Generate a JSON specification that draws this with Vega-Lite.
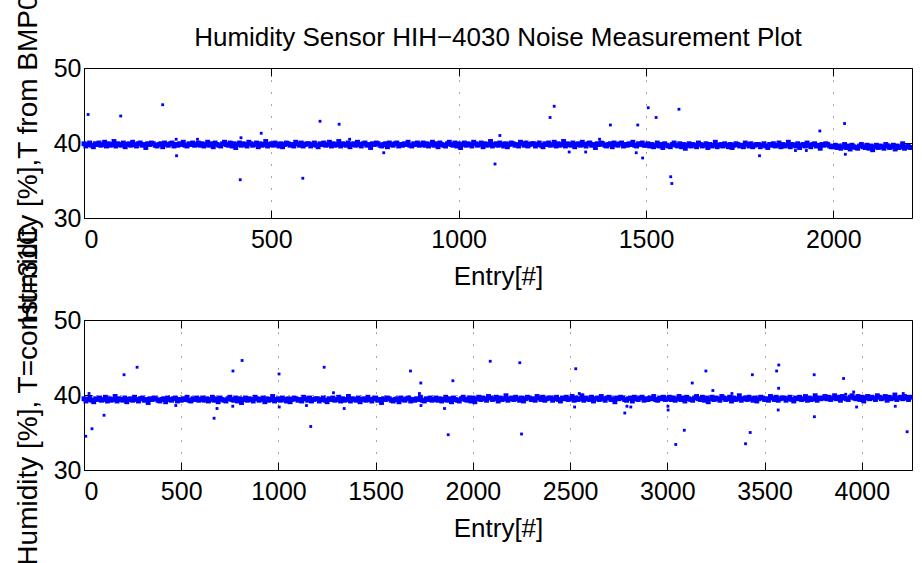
{
"$schema": "https://vega.github.io/schema/vega-lite/v6.json",
"autosize": {"type": "pad"},
"padding": {"left": 13, "top": -38, "right": 0, "bottom": 0},
"background": "white",
"config": {
  "font": "Liberation Sans",
  "view": {"stroke": "black", "strokeWidth": 1},
  "axis": {"labelFont": "Liberation Sans", "titleFont": "Liberation Sans", "labelFontSize": 25, "titleFontSize": 26, "titleFontWeight": "normal", "labelColor": "black", "titleColor": "black", "tickColor": "black", "tickSize": -8, "tickWidth": 1, "domain": false, "labelPadding": 11},
  "axisX": {"labelPadding": 17},
  "title": {"font": "Liberation Sans", "fontSize": 26, "fontWeight": "normal", "color": "black"}
},
"spacing": 102,
"bounds": "flush",
"datasets": {
"a": [
{"e":0,"h":39.9},{"e":5,"h":39.6},{"e":10,"h":39.8},{"e":15,"h":40.0},{"e":20,"h":39.7},{"e":25,"h":39.5},{"e":30,"h":39.9},{"e":35,"h":39.8},{"e":40,"h":40.0},{"e":45,"h":39.7},
{"e":50,"h":39.8},{"e":55,"h":40.1},{"e":60,"h":39.6},{"e":65,"h":39.9},{"e":70,"h":39.7},{"e":75,"h":39.8},{"e":80,"h":40.2},{"e":85,"h":39.6},{"e":90,"h":39.9},{"e":95,"h":39.8},
{"e":100,"h":39.7},{"e":105,"h":40.0},{"e":110,"h":39.5},{"e":115,"h":39.8},{"e":120,"h":39.9},{"e":125,"h":39.7},{"e":130,"h":40.1},{"e":135,"h":39.8},{"e":140,"h":39.6},{"e":145,"h":39.9},
{"e":150,"h":40.0},{"e":155,"h":39.7},{"e":160,"h":39.8},{"e":165,"h":39.4},{"e":170,"h":39.9},{"e":175,"h":39.8},{"e":180,"h":40.0},{"e":185,"h":39.9},{"e":190,"h":39.7},{"e":195,"h":39.6},
{"e":200,"h":39.8},{"e":205,"h":39.9},{"e":210,"h":39.5},{"e":215,"h":40.0},{"e":220,"h":39.8},{"e":225,"h":39.7},{"e":230,"h":39.9},{"e":235,"h":40.0},{"e":240,"h":39.6},{"e":245,"h":39.8},
{"e":250,"h":39.7},{"e":255,"h":39.9},{"e":260,"h":39.8},{"e":265,"h":40.1},{"e":270,"h":39.7},{"e":275,"h":39.6},{"e":280,"h":39.9},{"e":285,"h":39.8},{"e":290,"h":40.0},{"e":295,"h":39.7},
{"e":300,"h":39.8},{"e":305,"h":40.0},{"e":310,"h":39.7},{"e":315,"h":39.9},{"e":320,"h":39.6},{"e":325,"h":39.8},{"e":330,"h":40.1},{"e":335,"h":39.7},{"e":340,"h":39.9},{"e":345,"h":39.5},
{"e":350,"h":40.0},{"e":355,"h":39.8},{"e":360,"h":39.7},{"e":365,"h":39.6},{"e":370,"h":39.9},{"e":375,"h":40.1},{"e":380,"h":39.8},{"e":385,"h":39.7},{"e":390,"h":40.0},{"e":395,"h":39.6},
{"e":400,"h":39.9},{"e":405,"h":39.4},{"e":410,"h":39.8},{"e":415,"h":40.0},{"e":420,"h":39.7},{"e":425,"h":39.9},{"e":430,"h":39.8},{"e":435,"h":39.6},{"e":440,"h":40.1},{"e":445,"h":39.9},
{"e":450,"h":39.7},{"e":455,"h":39.8},{"e":460,"h":40.0},{"e":465,"h":39.5},{"e":470,"h":39.9},{"e":475,"h":39.7},{"e":480,"h":39.8},{"e":485,"h":40.2},{"e":490,"h":39.6},{"e":495,"h":39.8},
{"e":500,"h":39.9},{"e":505,"h":39.7},{"e":510,"h":40.0},{"e":515,"h":39.8},{"e":520,"h":39.6},{"e":525,"h":39.9},{"e":530,"h":39.5},{"e":535,"h":39.8},{"e":540,"h":40.0},{"e":545,"h":39.9},
{"e":550,"h":39.7},{"e":555,"h":39.8},{"e":560,"h":39.6},{"e":565,"h":40.1},{"e":570,"h":39.9},{"e":575,"h":39.7},{"e":580,"h":40.0},{"e":585,"h":39.6},{"e":590,"h":39.8},{"e":595,"h":39.9},
{"e":600,"h":39.9},{"e":605,"h":39.6},{"e":610,"h":39.8},{"e":615,"h":40.0},{"e":620,"h":39.7},{"e":625,"h":39.5},{"e":630,"h":39.9},{"e":635,"h":39.8},{"e":640,"h":40.0},{"e":645,"h":39.7},
{"e":650,"h":39.8},{"e":655,"h":40.1},{"e":660,"h":39.6},{"e":665,"h":39.9},{"e":670,"h":39.7},{"e":675,"h":39.8},{"e":680,"h":40.2},{"e":685,"h":39.6},{"e":690,"h":39.9},{"e":695,"h":39.8},
{"e":700,"h":39.7},{"e":705,"h":40.0},{"e":710,"h":39.5},{"e":715,"h":39.8},{"e":720,"h":39.9},{"e":725,"h":39.7},{"e":730,"h":40.1},{"e":735,"h":39.8},{"e":740,"h":39.6},{"e":745,"h":39.9},
{"e":750,"h":40.0},{"e":755,"h":39.7},{"e":760,"h":39.8},{"e":765,"h":39.4},{"e":770,"h":39.9},{"e":775,"h":39.8},{"e":780,"h":40.0},{"e":785,"h":39.9},{"e":790,"h":39.7},{"e":795,"h":39.6},
{"e":800,"h":39.8},{"e":805,"h":39.9},{"e":810,"h":39.5},{"e":815,"h":40.0},{"e":820,"h":39.8},{"e":825,"h":39.7},{"e":830,"h":39.9},{"e":835,"h":40.0},{"e":840,"h":39.6},{"e":845,"h":39.8},
{"e":850,"h":39.7},{"e":855,"h":39.9},{"e":860,"h":39.8},{"e":865,"h":40.1},{"e":870,"h":39.7},{"e":875,"h":39.6},{"e":880,"h":39.9},{"e":885,"h":39.8},{"e":890,"h":40.0},{"e":895,"h":39.7},
{"e":900,"h":39.8},{"e":905,"h":40.0},{"e":910,"h":39.7},{"e":915,"h":39.9},{"e":920,"h":39.6},{"e":925,"h":39.8},{"e":930,"h":40.1},{"e":935,"h":39.7},{"e":940,"h":39.9},{"e":945,"h":39.5},
{"e":950,"h":40.0},{"e":955,"h":39.8},{"e":960,"h":39.7},{"e":965,"h":39.6},{"e":970,"h":39.9},{"e":975,"h":40.1},{"e":980,"h":39.8},{"e":985,"h":39.7},{"e":990,"h":40.0},{"e":995,"h":39.6},
{"e":1000,"h":39.9},{"e":1005,"h":39.4},{"e":1010,"h":39.8},{"e":1015,"h":40.0},{"e":1020,"h":39.7},{"e":1025,"h":39.9},{"e":1030,"h":39.8},{"e":1035,"h":39.6},{"e":1040,"h":40.1},{"e":1045,"h":39.9},
{"e":1050,"h":39.7},{"e":1055,"h":39.8},{"e":1060,"h":40.0},{"e":1065,"h":39.5},{"e":1070,"h":39.9},{"e":1075,"h":39.7},{"e":1080,"h":39.8},{"e":1085,"h":40.2},{"e":1090,"h":39.6},{"e":1095,"h":39.8},
{"e":1100,"h":39.9},{"e":1105,"h":39.7},{"e":1110,"h":40.0},{"e":1115,"h":39.8},{"e":1120,"h":39.6},{"e":1125,"h":39.9},{"e":1130,"h":39.5},{"e":1135,"h":39.8},{"e":1140,"h":40.0},{"e":1145,"h":39.9},
{"e":1150,"h":39.7},{"e":1155,"h":39.8},{"e":1160,"h":39.6},{"e":1165,"h":40.1},{"e":1170,"h":39.9},{"e":1175,"h":39.7},{"e":1180,"h":40.0},{"e":1185,"h":39.6},{"e":1190,"h":39.8},{"e":1195,"h":39.9},
{"e":1200,"h":39.9},{"e":1205,"h":39.6},{"e":1210,"h":39.8},{"e":1215,"h":40.0},{"e":1220,"h":39.7},{"e":1225,"h":39.5},{"e":1230,"h":39.9},{"e":1235,"h":39.8},{"e":1240,"h":40.0},{"e":1245,"h":39.7},
{"e":1250,"h":39.8},{"e":1255,"h":40.1},{"e":1260,"h":39.6},{"e":1265,"h":39.9},{"e":1270,"h":39.7},{"e":1275,"h":39.8},{"e":1280,"h":40.2},{"e":1285,"h":39.6},{"e":1290,"h":39.9},{"e":1295,"h":39.8},
{"e":1300,"h":39.7},{"e":1305,"h":40.0},{"e":1310,"h":39.5},{"e":1315,"h":39.8},{"e":1320,"h":39.9},{"e":1325,"h":39.7},{"e":1330,"h":40.1},{"e":1335,"h":39.8},{"e":1340,"h":39.6},{"e":1345,"h":39.9},
{"e":1350,"h":40.0},{"e":1355,"h":39.7},{"e":1360,"h":39.8},{"e":1365,"h":39.4},{"e":1370,"h":39.9},{"e":1375,"h":39.8},{"e":1380,"h":40.0},{"e":1385,"h":39.9},{"e":1390,"h":39.7},{"e":1395,"h":39.6},
{"e":1400,"h":39.8},{"e":1405,"h":39.9},{"e":1410,"h":39.5},{"e":1415,"h":40.0},{"e":1420,"h":39.8},{"e":1425,"h":39.7},{"e":1430,"h":39.9},{"e":1435,"h":40.0},{"e":1440,"h":39.6},{"e":1445,"h":39.8},
{"e":1450,"h":39.7},{"e":1455,"h":39.9},{"e":1460,"h":39.8},{"e":1465,"h":40.1},{"e":1470,"h":39.7},{"e":1475,"h":39.6},{"e":1480,"h":39.9},{"e":1485,"h":39.8},{"e":1490,"h":40.0},{"e":1495,"h":39.7},
{"e":1500,"h":39.7},{"e":1505,"h":39.9},{"e":1510,"h":39.6},{"e":1515,"h":39.8},{"e":1520,"h":39.5},{"e":1525,"h":39.7},{"e":1530,"h":40.0},{"e":1535,"h":39.6},{"e":1540,"h":39.8},{"e":1545,"h":39.4},
{"e":1550,"h":39.9},{"e":1555,"h":39.7},{"e":1560,"h":39.6},{"e":1565,"h":39.5},{"e":1570,"h":39.8},{"e":1575,"h":40.0},{"e":1580,"h":39.7},{"e":1585,"h":39.6},{"e":1590,"h":39.9},{"e":1595,"h":39.5},
{"e":1600,"h":39.8},{"e":1605,"h":39.3},{"e":1610,"h":39.7},{"e":1615,"h":39.9},{"e":1620,"h":39.6},{"e":1625,"h":39.8},{"e":1630,"h":39.7},{"e":1635,"h":39.5},{"e":1640,"h":40.0},{"e":1645,"h":39.8},
{"e":1650,"h":39.6},{"e":1655,"h":39.7},{"e":1660,"h":39.9},{"e":1665,"h":39.4},{"e":1670,"h":39.8},{"e":1675,"h":39.6},{"e":1680,"h":39.7},{"e":1685,"h":40.1},{"e":1690,"h":39.5},{"e":1695,"h":39.7},
{"e":1700,"h":39.8},{"e":1705,"h":39.6},{"e":1710,"h":39.9},{"e":1715,"h":39.7},{"e":1720,"h":39.5},{"e":1725,"h":39.8},{"e":1730,"h":39.4},{"e":1735,"h":39.7},{"e":1740,"h":39.9},{"e":1745,"h":39.8},
{"e":1750,"h":39.6},{"e":1755,"h":39.7},{"e":1760,"h":39.5},{"e":1765,"h":40.0},{"e":1770,"h":39.8},{"e":1775,"h":39.6},{"e":1780,"h":39.9},{"e":1785,"h":39.5},{"e":1790,"h":39.7},{"e":1795,"h":39.8},
{"e":1800,"h":39.8},{"e":1805,"h":39.5},{"e":1810,"h":39.7},{"e":1815,"h":39.9},{"e":1820,"h":39.6},{"e":1825,"h":39.4},{"e":1830,"h":39.8},{"e":1835,"h":39.7},{"e":1840,"h":39.9},{"e":1845,"h":39.6},
{"e":1850,"h":39.7},{"e":1855,"h":40.0},{"e":1860,"h":39.5},{"e":1865,"h":39.8},{"e":1870,"h":39.6},{"e":1875,"h":39.7},{"e":1880,"h":40.1},{"e":1885,"h":39.5},{"e":1890,"h":39.8},{"e":1895,"h":39.7},
{"e":1900,"h":39.6},{"e":1905,"h":39.9},{"e":1910,"h":39.4},{"e":1915,"h":39.7},{"e":1920,"h":39.8},{"e":1925,"h":39.6},{"e":1930,"h":40.0},{"e":1935,"h":39.7},{"e":1940,"h":39.5},{"e":1945,"h":39.8},
{"e":1950,"h":39.9},{"e":1955,"h":39.6},{"e":1960,"h":39.7},{"e":1965,"h":39.3},{"e":1970,"h":39.8},{"e":1975,"h":39.7},{"e":1980,"h":39.9},{"e":1985,"h":39.8},{"e":1990,"h":39.6},{"e":1995,"h":39.5},
{"e":2000,"h":39.5},{"e":2005,"h":39.7},{"e":2010,"h":39.4},{"e":2015,"h":39.6},{"e":2020,"h":39.3},{"e":2025,"h":39.5},{"e":2030,"h":39.8},{"e":2035,"h":39.4},{"e":2040,"h":39.6},{"e":2045,"h":39.2},
{"e":2050,"h":39.7},{"e":2055,"h":39.5},{"e":2060,"h":39.4},{"e":2065,"h":39.3},{"e":2070,"h":39.6},{"e":2075,"h":39.8},{"e":2080,"h":39.5},{"e":2085,"h":39.4},{"e":2090,"h":39.7},{"e":2095,"h":39.3},
{"e":2100,"h":39.6},{"e":2105,"h":39.1},{"e":2110,"h":39.5},{"e":2115,"h":39.7},{"e":2120,"h":39.4},{"e":2125,"h":39.6},{"e":2130,"h":39.5},{"e":2135,"h":39.3},{"e":2140,"h":39.8},{"e":2145,"h":39.6},
{"e":2150,"h":39.4},{"e":2155,"h":39.5},{"e":2160,"h":39.7},{"e":2165,"h":39.2},{"e":2170,"h":39.6},{"e":2175,"h":39.4},{"e":2180,"h":39.5},{"e":2185,"h":39.9},{"e":2190,"h":39.3},{"e":2195,"h":39.5},
{"e":2200,"h":39.6},{"e":2205,"h":39.4}
],
"ao": [
{"e":11,"h":43.8},{"e":98,"h":43.6},{"e":210,"h":45.1},{"e":246,"h":40.5},{"e":247,"h":38.3},{"e":303,"h":40.5},{"e":417,"h":35.1},{"e":419,"h":40.7},{"e":473,"h":41.3},{"e":584,"h":35.3},
{"e":630,"h":42.9},{"e":681,"h":42.5},{"e":709,"h":40.5},{"e":800,"h":38.7},{"e":1097,"h":37.2},{"e":1110,"h":41.0},{"e":1244,"h":43.4},{"e":1255,"h":44.9},{"e":1295,"h":38.8},{"e":1339,"h":38.8},
{"e":1376,"h":40.5},{"e":1405,"h":42.4},{"e":1474,"h":38.7},{"e":1478,"h":42.4},{"e":1491,"h":38.0},{"e":1506,"h":44.7},{"e":1527,"h":43.4},{"e":1566,"h":35.5},{"e":1569,"h":34.6},{"e":1588,"h":44.5},
{"e":1803,"h":38.3},{"e":1899,"h":39.0},{"e":1928,"h":39.0},{"e":1964,"h":41.6},{"e":2030,"h":42.6},{"e":2032,"h":38.5}
],
"b": [
{"e":0,"h":39.5},{"e":10,"h":39.2},{"e":20,"h":39.4},{"e":30,"h":39.6},{"e":40,"h":39.3},{"e":50,"h":39.1},{"e":60,"h":39.5},{"e":70,"h":39.4},{"e":80,"h":39.6},{"e":90,"h":39.3},
{"e":100,"h":39.4},{"e":110,"h":39.7},{"e":120,"h":39.2},{"e":130,"h":39.5},{"e":140,"h":39.3},{"e":150,"h":39.4},{"e":160,"h":39.8},{"e":170,"h":39.2},{"e":180,"h":39.5},{"e":190,"h":39.4},
{"e":200,"h":39.3},{"e":210,"h":39.6},{"e":220,"h":39.1},{"e":230,"h":39.4},{"e":240,"h":39.5},{"e":250,"h":39.3},{"e":260,"h":39.7},{"e":270,"h":39.4},{"e":280,"h":39.2},{"e":290,"h":39.5},
{"e":300,"h":39.6},{"e":310,"h":39.3},{"e":320,"h":39.4},{"e":330,"h":39.0},{"e":340,"h":39.5},{"e":350,"h":39.4},{"e":360,"h":39.6},{"e":370,"h":39.5},{"e":380,"h":39.3},{"e":390,"h":39.2},
{"e":400,"h":39.4},{"e":410,"h":39.5},{"e":420,"h":39.1},{"e":430,"h":39.6},{"e":440,"h":39.4},{"e":450,"h":39.3},{"e":460,"h":39.5},{"e":470,"h":39.6},{"e":480,"h":39.2},{"e":490,"h":39.4},
{"e":500,"h":39.3},{"e":510,"h":39.5},{"e":520,"h":39.4},{"e":530,"h":39.7},{"e":540,"h":39.3},{"e":550,"h":39.2},{"e":560,"h":39.5},{"e":570,"h":39.4},{"e":580,"h":39.6},{"e":590,"h":39.3},
{"e":600,"h":39.4},{"e":610,"h":39.6},{"e":620,"h":39.3},{"e":630,"h":39.5},{"e":640,"h":39.2},{"e":650,"h":39.4},{"e":660,"h":39.7},{"e":670,"h":39.3},{"e":680,"h":39.5},{"e":690,"h":39.1},
{"e":700,"h":39.6},{"e":710,"h":39.4},{"e":720,"h":39.3},{"e":730,"h":39.2},{"e":740,"h":39.5},{"e":750,"h":39.7},{"e":760,"h":39.4},{"e":770,"h":39.3},{"e":780,"h":39.6},{"e":790,"h":39.2},
{"e":800,"h":39.5},{"e":810,"h":39.0},{"e":820,"h":39.4},{"e":830,"h":39.6},{"e":840,"h":39.3},{"e":850,"h":39.5},{"e":860,"h":39.4},{"e":870,"h":39.2},{"e":880,"h":39.7},{"e":890,"h":39.5},
{"e":900,"h":39.3},{"e":910,"h":39.4},{"e":920,"h":39.6},{"e":930,"h":39.1},{"e":940,"h":39.5},{"e":950,"h":39.3},{"e":960,"h":39.4},{"e":970,"h":39.8},{"e":980,"h":39.2},{"e":990,"h":39.4},
{"e":1000,"h":39.5},{"e":1010,"h":39.3},{"e":1020,"h":39.6},{"e":1030,"h":39.4},{"e":1040,"h":39.2},{"e":1050,"h":39.5},{"e":1060,"h":39.1},{"e":1070,"h":39.4},{"e":1080,"h":39.6},{"e":1090,"h":39.5},
{"e":1100,"h":39.3},{"e":1110,"h":39.4},{"e":1120,"h":39.2},{"e":1130,"h":39.7},{"e":1140,"h":39.5},{"e":1150,"h":39.3},{"e":1160,"h":39.6},{"e":1170,"h":39.2},{"e":1180,"h":39.4},{"e":1190,"h":39.5},
{"e":1200,"h":39.5},{"e":1210,"h":39.2},{"e":1220,"h":39.4},{"e":1230,"h":39.6},{"e":1240,"h":39.3},{"e":1250,"h":39.1},{"e":1260,"h":39.5},{"e":1270,"h":39.4},{"e":1280,"h":39.6},{"e":1290,"h":39.3},
{"e":1300,"h":39.4},{"e":1310,"h":39.7},{"e":1320,"h":39.2},{"e":1330,"h":39.5},{"e":1340,"h":39.3},{"e":1350,"h":39.4},{"e":1360,"h":39.8},{"e":1370,"h":39.2},{"e":1380,"h":39.5},{"e":1390,"h":39.4},
{"e":1400,"h":39.3},{"e":1410,"h":39.6},{"e":1420,"h":39.1},{"e":1430,"h":39.4},{"e":1440,"h":39.5},{"e":1450,"h":39.3},{"e":1460,"h":39.7},{"e":1470,"h":39.4},{"e":1480,"h":39.2},{"e":1490,"h":39.5},
{"e":1500,"h":39.6},{"e":1510,"h":39.3},{"e":1520,"h":39.4},{"e":1530,"h":39.0},{"e":1540,"h":39.5},{"e":1550,"h":39.4},{"e":1560,"h":39.6},{"e":1570,"h":39.5},{"e":1580,"h":39.3},{"e":1590,"h":39.2},
{"e":1600,"h":39.4},{"e":1610,"h":39.5},{"e":1620,"h":39.1},{"e":1630,"h":39.6},{"e":1640,"h":39.4},{"e":1650,"h":39.3},{"e":1660,"h":39.5},{"e":1670,"h":39.6},{"e":1680,"h":39.2},{"e":1690,"h":39.4},
{"e":1700,"h":39.3},{"e":1710,"h":39.5},{"e":1720,"h":39.4},{"e":1730,"h":39.7},{"e":1740,"h":39.3},{"e":1750,"h":39.2},{"e":1760,"h":39.5},{"e":1770,"h":39.4},{"e":1780,"h":39.6},{"e":1790,"h":39.3},
{"e":1800,"h":39.4},{"e":1810,"h":39.6},{"e":1820,"h":39.3},{"e":1830,"h":39.5},{"e":1840,"h":39.2},{"e":1850,"h":39.4},{"e":1860,"h":39.7},{"e":1870,"h":39.3},{"e":1880,"h":39.5},{"e":1890,"h":39.1},
{"e":1900,"h":39.6},{"e":1910,"h":39.4},{"e":1920,"h":39.3},{"e":1930,"h":39.2},{"e":1940,"h":39.5},{"e":1950,"h":39.7},{"e":1960,"h":39.4},{"e":1970,"h":39.3},{"e":1980,"h":39.6},{"e":1990,"h":39.2},
{"e":2000,"h":39.6},{"e":2010,"h":39.1},{"e":2020,"h":39.5},{"e":2030,"h":39.7},{"e":2040,"h":39.4},{"e":2050,"h":39.6},{"e":2060,"h":39.5},{"e":2070,"h":39.3},{"e":2080,"h":39.8},{"e":2090,"h":39.6},
{"e":2100,"h":39.4},{"e":2110,"h":39.5},{"e":2120,"h":39.7},{"e":2130,"h":39.2},{"e":2140,"h":39.6},{"e":2150,"h":39.4},{"e":2160,"h":39.5},{"e":2170,"h":39.9},{"e":2180,"h":39.3},{"e":2190,"h":39.5},
{"e":2200,"h":39.6},{"e":2210,"h":39.4},{"e":2220,"h":39.7},{"e":2230,"h":39.5},{"e":2240,"h":39.3},{"e":2250,"h":39.6},{"e":2260,"h":39.2},{"e":2270,"h":39.5},{"e":2280,"h":39.7},{"e":2290,"h":39.6},
{"e":2300,"h":39.4},{"e":2310,"h":39.5},{"e":2320,"h":39.3},{"e":2330,"h":39.8},{"e":2340,"h":39.6},{"e":2350,"h":39.4},{"e":2360,"h":39.7},{"e":2370,"h":39.3},{"e":2380,"h":39.5},{"e":2390,"h":39.6},
{"e":2400,"h":39.6},{"e":2410,"h":39.3},{"e":2420,"h":39.5},{"e":2430,"h":39.7},{"e":2440,"h":39.4},{"e":2450,"h":39.2},{"e":2460,"h":39.6},{"e":2470,"h":39.5},{"e":2480,"h":39.7},{"e":2490,"h":39.4},
{"e":2500,"h":39.5},{"e":2510,"h":39.8},{"e":2520,"h":39.3},{"e":2530,"h":39.6},{"e":2540,"h":39.4},{"e":2550,"h":39.5},{"e":2560,"h":39.9},{"e":2570,"h":39.3},{"e":2580,"h":39.6},{"e":2590,"h":39.5},
{"e":2600,"h":39.4},{"e":2610,"h":39.7},{"e":2620,"h":39.2},{"e":2630,"h":39.5},{"e":2640,"h":39.6},{"e":2650,"h":39.4},{"e":2660,"h":39.8},{"e":2670,"h":39.5},{"e":2680,"h":39.3},{"e":2690,"h":39.6},
{"e":2700,"h":39.7},{"e":2710,"h":39.4},{"e":2720,"h":39.5},{"e":2730,"h":39.1},{"e":2740,"h":39.6},{"e":2750,"h":39.5},{"e":2760,"h":39.7},{"e":2770,"h":39.6},{"e":2780,"h":39.4},{"e":2790,"h":39.3},
{"e":2800,"h":39.5},{"e":2810,"h":39.6},{"e":2820,"h":39.2},{"e":2830,"h":39.7},{"e":2840,"h":39.5},{"e":2850,"h":39.4},{"e":2860,"h":39.6},{"e":2870,"h":39.7},{"e":2880,"h":39.3},{"e":2890,"h":39.5},
{"e":2900,"h":39.4},{"e":2910,"h":39.6},{"e":2920,"h":39.5},{"e":2930,"h":39.8},{"e":2940,"h":39.4},{"e":2950,"h":39.3},{"e":2960,"h":39.6},{"e":2970,"h":39.5},{"e":2980,"h":39.7},{"e":2990,"h":39.4},
{"e":3000,"h":39.5},{"e":3010,"h":39.7},{"e":3020,"h":39.4},{"e":3030,"h":39.6},{"e":3040,"h":39.3},{"e":3050,"h":39.5},{"e":3060,"h":39.8},{"e":3070,"h":39.4},{"e":3080,"h":39.6},{"e":3090,"h":39.2},
{"e":3100,"h":39.7},{"e":3110,"h":39.5},{"e":3120,"h":39.4},{"e":3130,"h":39.3},{"e":3140,"h":39.6},{"e":3150,"h":39.8},{"e":3160,"h":39.5},{"e":3170,"h":39.4},{"e":3180,"h":39.7},{"e":3190,"h":39.3},
{"e":3200,"h":39.6},{"e":3210,"h":39.1},{"e":3220,"h":39.5},{"e":3230,"h":39.7},{"e":3240,"h":39.4},{"e":3250,"h":39.6},{"e":3260,"h":39.5},{"e":3270,"h":39.3},{"e":3280,"h":39.8},{"e":3290,"h":39.6},
{"e":3300,"h":39.4},{"e":3310,"h":39.5},{"e":3320,"h":39.7},{"e":3330,"h":39.2},{"e":3340,"h":39.6},{"e":3350,"h":39.4},{"e":3360,"h":39.5},{"e":3370,"h":39.9},{"e":3380,"h":39.3},{"e":3390,"h":39.5},
{"e":3400,"h":39.6},{"e":3410,"h":39.4},{"e":3420,"h":39.7},{"e":3430,"h":39.5},{"e":3440,"h":39.3},{"e":3450,"h":39.6},{"e":3460,"h":39.2},{"e":3470,"h":39.5},{"e":3480,"h":39.7},{"e":3490,"h":39.6},
{"e":3500,"h":39.4},{"e":3510,"h":39.5},{"e":3520,"h":39.3},{"e":3530,"h":39.8},{"e":3540,"h":39.6},{"e":3550,"h":39.4},{"e":3560,"h":39.7},{"e":3570,"h":39.3},{"e":3580,"h":39.5},{"e":3590,"h":39.6},
{"e":3600,"h":39.6},{"e":3610,"h":39.3},{"e":3620,"h":39.5},{"e":3630,"h":39.7},{"e":3640,"h":39.4},{"e":3650,"h":39.2},{"e":3660,"h":39.6},{"e":3670,"h":39.5},{"e":3680,"h":39.7},{"e":3690,"h":39.4},
{"e":3700,"h":39.5},{"e":3710,"h":39.8},{"e":3720,"h":39.3},{"e":3730,"h":39.6},{"e":3740,"h":39.4},{"e":3750,"h":39.5},{"e":3760,"h":39.9},{"e":3770,"h":39.3},{"e":3780,"h":39.6},{"e":3790,"h":39.5},
{"e":3800,"h":39.6},{"e":3810,"h":39.8},{"e":3820,"h":39.5},{"e":3830,"h":39.7},{"e":3840,"h":39.4},{"e":3850,"h":39.6},{"e":3860,"h":39.9},{"e":3870,"h":39.5},{"e":3880,"h":39.7},{"e":3890,"h":39.3},
{"e":3900,"h":39.8},{"e":3910,"h":39.6},{"e":3920,"h":39.5},{"e":3930,"h":39.4},{"e":3940,"h":39.7},{"e":3950,"h":39.9},{"e":3960,"h":39.6},{"e":3970,"h":39.5},{"e":3980,"h":39.8},{"e":3990,"h":39.4},
{"e":4000,"h":39.7},{"e":4010,"h":39.2},{"e":4020,"h":39.6},{"e":4030,"h":39.8},{"e":4040,"h":39.5},{"e":4050,"h":39.7},{"e":4060,"h":39.6},{"e":4070,"h":39.4},{"e":4080,"h":39.9},{"e":4090,"h":39.7},
{"e":4100,"h":39.5},{"e":4110,"h":39.6},{"e":4120,"h":39.8},{"e":4130,"h":39.3},{"e":4140,"h":39.7},{"e":4150,"h":39.5},{"e":4160,"h":39.6},{"e":4170,"h":40.0},{"e":4180,"h":39.4},{"e":4190,"h":39.6},
{"e":4200,"h":39.7},{"e":4210,"h":39.5},{"e":4220,"h":39.8},{"e":4230,"h":39.6},{"e":4240,"h":39.4},{"e":4250,"h":39.7}
],
"bo": [
{"e":9,"h":34.5},{"e":26,"h":40.2},{"e":41,"h":35.5},{"e":103,"h":37.3},{"e":206,"h":42.7},{"e":273,"h":43.7},{"e":472,"h":38.6},{"e":669,"h":36.9},{"e":684,"h":38.2},{"e":765,"h":38.5},
{"e":766,"h":43.2},{"e":813,"h":44.6},{"e":1003,"h":42.8},{"e":1004,"h":38.4},{"e":1144,"h":38.6},{"e":1166,"h":35.8},{"e":1235,"h":43.7},{"e":1283,"h":40.3},{"e":1338,"h":38.2},{"e":1679,"h":43.2},
{"e":1732,"h":41.6},{"e":1725,"h":40.2},{"e":1733,"h":38.6},{"e":1854,"h":38.2},{"e":1873,"h":34.7},{"e":1897,"h":41.9},{"e":2089,"h":44.5},{"e":2241,"h":44.3},{"e":2250,"h":34.8},{"e":2529,"h":43.5},
{"e":2547,"h":40.2},{"e":2523,"h":38.4},{"e":2781,"h":37.6},{"e":2792,"h":38.5},{"e":2812,"h":38.4},{"e":3003,"h":38.5},{"e":3004,"h":38.0},{"e":3043,"h":33.4},{"e":3087,"h":35.3},{"e":3128,"h":41.6},
{"e":3198,"h":43.2},{"e":3234,"h":40.6},{"e":3332,"h":40.2},{"e":3402,"h":33.5},{"e":3426,"h":35.0},{"e":3437,"h":42.7},{"e":3562,"h":43.2},{"e":3573,"h":44.0},{"e":3572,"h":40.9},{"e":3570,"h":38.0},
{"e":3755,"h":42.7},{"e":3756,"h":37.1},{"e":3906,"h":42.2},{"e":3917,"h":40.1},{"e":3958,"h":40.4},{"e":3973,"h":38.4},{"e":4172,"h":38.5},{"e":4213,"h":40.2},{"e":4233,"h":35.1}
]
},
"vconcat": [
{
  "width": 828, "height": 150,
  "title": {"text": "Humidity Sensor HIH−4030 Noise Measurement Plot", "frame": "group", "anchor": "middle", "baseline": "alphabetic", "offset": -109},
  "layer": [
    {"data": {"name": "a"},
     "mark": {"type": "point", "filled": true, "shape": "square", "size": 24, "color": "#0000ff", "opacity": 1},
     "encoding": {
       "x": {"field": "e", "type": "quantitative", "scale": {"domain": [0, 2210], "nice": false, "zero": false},
             "axis": {"orient": "bottom", "values": [0, 500, 1000, 1500, 2000], "format": "d", "title": "Entry[#]", "grid": true, "gridDash": [1, 11], "gridColor": "#000", "gridOpacity": 0.7, "titleBaseline": "alphabetic", "titleY": 66}},
       "y": {"field": "h", "type": "quantitative", "scale": {"domain": [30, 50], "nice": false, "zero": false},
             "axis": {"orient": "left", "values": [30, 40, 50], "title": "Humidity [%],T from BMP085", "titleFontSize": 28, "grid": true, "gridDash": [1, 11], "gridColor": "#000", "gridOpacity": 0.7, "titleBaseline": "alphabetic", "titleX": -48, "titleY": 75}}
     }},
    {"data": {"name": "ao"},
     "mark": {"type": "point", "filled": true, "shape": "square", "size": 8, "color": "#0000ff", "opacity": 1},
     "encoding": {
       "x": {"field": "e", "type": "quantitative", "axis": null},
       "y": {"field": "h", "type": "quantitative", "axis": null}
     }},
    {"data": {"name": "ao"},
     "mark": {"type": "point", "opacity": 0},
     "encoding": {
       "x": {"field": "e", "type": "quantitative", "axis": {"orient": "top", "values": [0, 500, 1000, 1500, 2000], "labels": false, "title": null, "grid": false}},
       "y": {"field": "h", "type": "quantitative", "axis": {"orient": "right", "values": [30, 40, 50], "labels": false, "title": null, "grid": false}}
     }}
  ],
  "resolve": {"axis": {"x": "independent", "y": "independent"}}
},
{
  "width": 828, "height": 150,
  "layer": [
    {"data": {"name": "b"},
     "mark": {"type": "point", "filled": true, "shape": "square", "size": 24, "color": "#0000ff", "opacity": 1},
     "encoding": {
       "x": {"field": "e", "type": "quantitative", "scale": {"domain": [0, 4258], "nice": false, "zero": false},
             "axis": {"orient": "bottom", "values": [0, 500, 1000, 1500, 2000, 2500, 3000, 3500, 4000], "format": "d", "title": "Entry[#]", "grid": true, "gridDash": [1, 11], "gridColor": "#000", "gridOpacity": 0.7, "titleBaseline": "alphabetic", "titleY": 66}},
       "y": {"field": "h", "type": "quantitative", "scale": {"domain": [30, 50], "nice": false, "zero": false},
             "axis": {"orient": "left", "values": [30, 40, 50], "title": "Humidity [%], T=const=31C", "titleFontSize": 28, "grid": true, "gridDash": [1, 11], "gridColor": "#000", "gridOpacity": 0.7, "titleBaseline": "alphabetic", "titleX": -48, "titleY": 75}}
     }},
    {"data": {"name": "bo"},
     "mark": {"type": "point", "filled": true, "shape": "square", "size": 8, "color": "#0000ff", "opacity": 1},
     "encoding": {
       "x": {"field": "e", "type": "quantitative", "axis": null},
       "y": {"field": "h", "type": "quantitative", "axis": null}
     }},
    {"data": {"name": "bo"},
     "mark": {"type": "point", "opacity": 0},
     "encoding": {
       "x": {"field": "e", "type": "quantitative", "axis": {"orient": "top", "values": [0, 500, 1000, 1500, 2000, 2500, 3000, 3500, 4000], "labels": false, "title": null, "grid": false}},
       "y": {"field": "h", "type": "quantitative", "axis": {"orient": "right", "values": [30, 40, 50], "labels": false, "title": null, "grid": false}}
     }}
  ],
  "resolve": {"axis": {"x": "independent", "y": "independent"}}
}
]
}
